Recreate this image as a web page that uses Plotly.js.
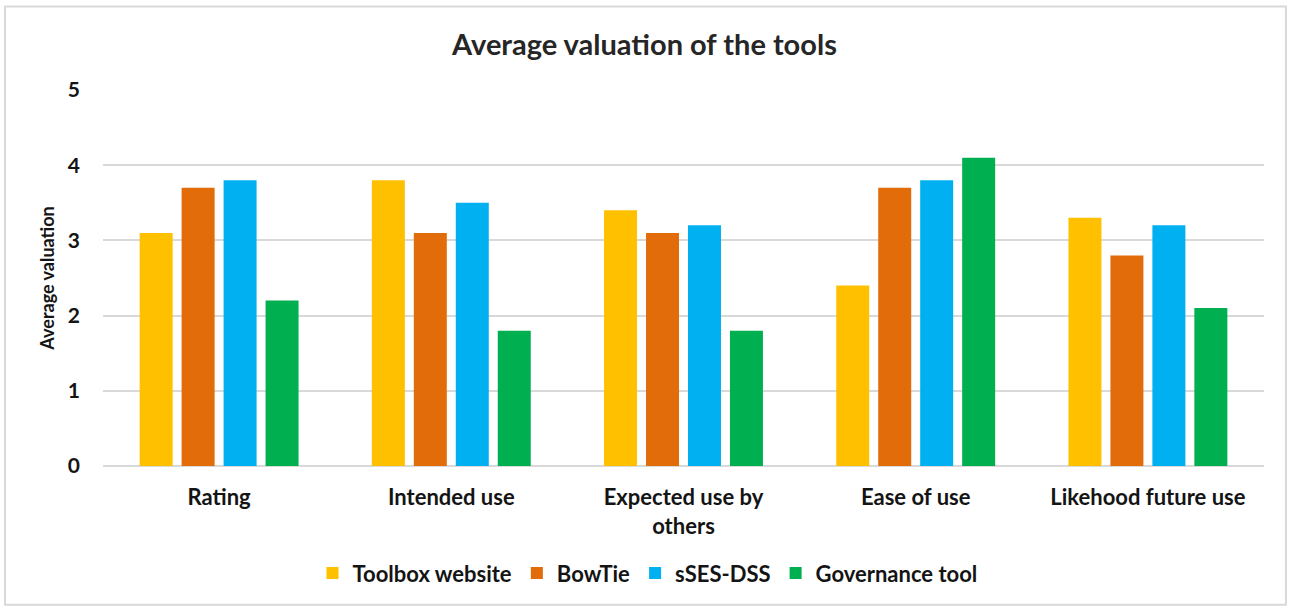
<!DOCTYPE html>
<html>
<head>
<meta charset="utf-8">
<script src="https://cdn.plot.ly/plotly-3.0.1.min.js"></script>
<style>
html,body{margin:0;padding:0;background:#fff;}
#chart{width:1289px;height:607px;}
</style>
</head>
<body>
<div id="chart"></div>
<script>
const categories = ["Rating", "Intended use", "Expected use by<br>others", "Ease of use", "Likehood future use"];
const seriesNames = ["Toolbox website", "BowTie", "sSES-DSS", "Governance tool"];
const toolboxWebsite = [3.1, 3.8, 3.4, 2.4, 3.3];
const bowTie = [3.7, 3.1, 3.1, 3.7, 2.8];
const sSESDSS = [3.8, 3.5, 3.2, 3.8, 3.2];
const governanceTool = [2.2, 1.8, 1.8, 4.1, 2.1];
const yTicks = [0, 1, 2, 3, 4, 5];

const colors = ["#FFC000", "#E36C0A", "#00B0F0", "#00B050"];
const seriesValues = [toolboxWebsite, bowTie, sSESDSS, governanceTool];

const font = "Lato, 'Open Sans', sans-serif";
const txt = "#141414";

const traces = seriesValues.map((vals, i) => ({
  type: "bar",
  name: seriesNames[i],
  x: categories,
  y: vals,
  marker: {color: colors[i]},
  hoverinfo: "y"
}));

const layout = {
  width: 1289,
  height: 607,
  margin: {l: 103, r: 25, t: 89.5, b: 141},
  paper_bgcolor: "#fff",
  plot_bgcolor: "#fff",
  barmode: "group",
  bargap: 0.277,
  bargroupgap: 0.214,
  font: {family: font, color: txt},
  title: {
    text: "<b>Average valuation of the tools</b>",
    font: {family: font, size: 29, color: "#262626"},
    x: 0.5, xref: "container", xanchor: "center",
    y: 45, yref: "container", yanchor: "middle"
  },
  xaxis: {
    tickfont: {family: font, size: 22, color: txt, weight: "bold"},
    showline: false,
    ticks: "",
    showgrid: false,
    ticklabelstandoff: 16
  },
  yaxis: {
    range: [0, 5],
    tickvals: yTicks,
    ticktext: yTicks.map(String),
    tickfont: {family: font, size: 21, color: txt, weight: "bold"},
    gridcolor: "#d9d9d9",
    gridwidth: 2,
    zeroline: true,
    zerolinecolor: "#d9d9d9",
    zerolinewidth: 2,
    ticks: "",
    ticklen: 0,
    ticklabelstandoff: 22,
    title: {
      text: "<b>Average valuation</b>",
      font: {family: font, size: 18, color: txt},
      standoff: 8
    }
  },
  showlegend: true,
  legend: {
    orientation: "h",
    x: 0.469, xanchor: "center",
    y: -0.285, yanchor: "middle",
    font: {family: font, size: 22, color: txt, weight: "bold"},
    itemwidth: 30,
    traceorder: "normal"
  },
  shapes: [{
    type: "rect", xref: "paper", yref: "paper",
    x0: -0.0844, x1: 1.0189, y0: -0.369, y1: 1.2218,
    line: {color: "#d9d9d9", width: 2}, fillcolor: "rgba(0,0,0,0)", layer: "below"
  }]
};

Plotly.newPlot("chart", traces, layout, {displayModeBar: false, staticPlot: true});
</script>
</body>
</html>
